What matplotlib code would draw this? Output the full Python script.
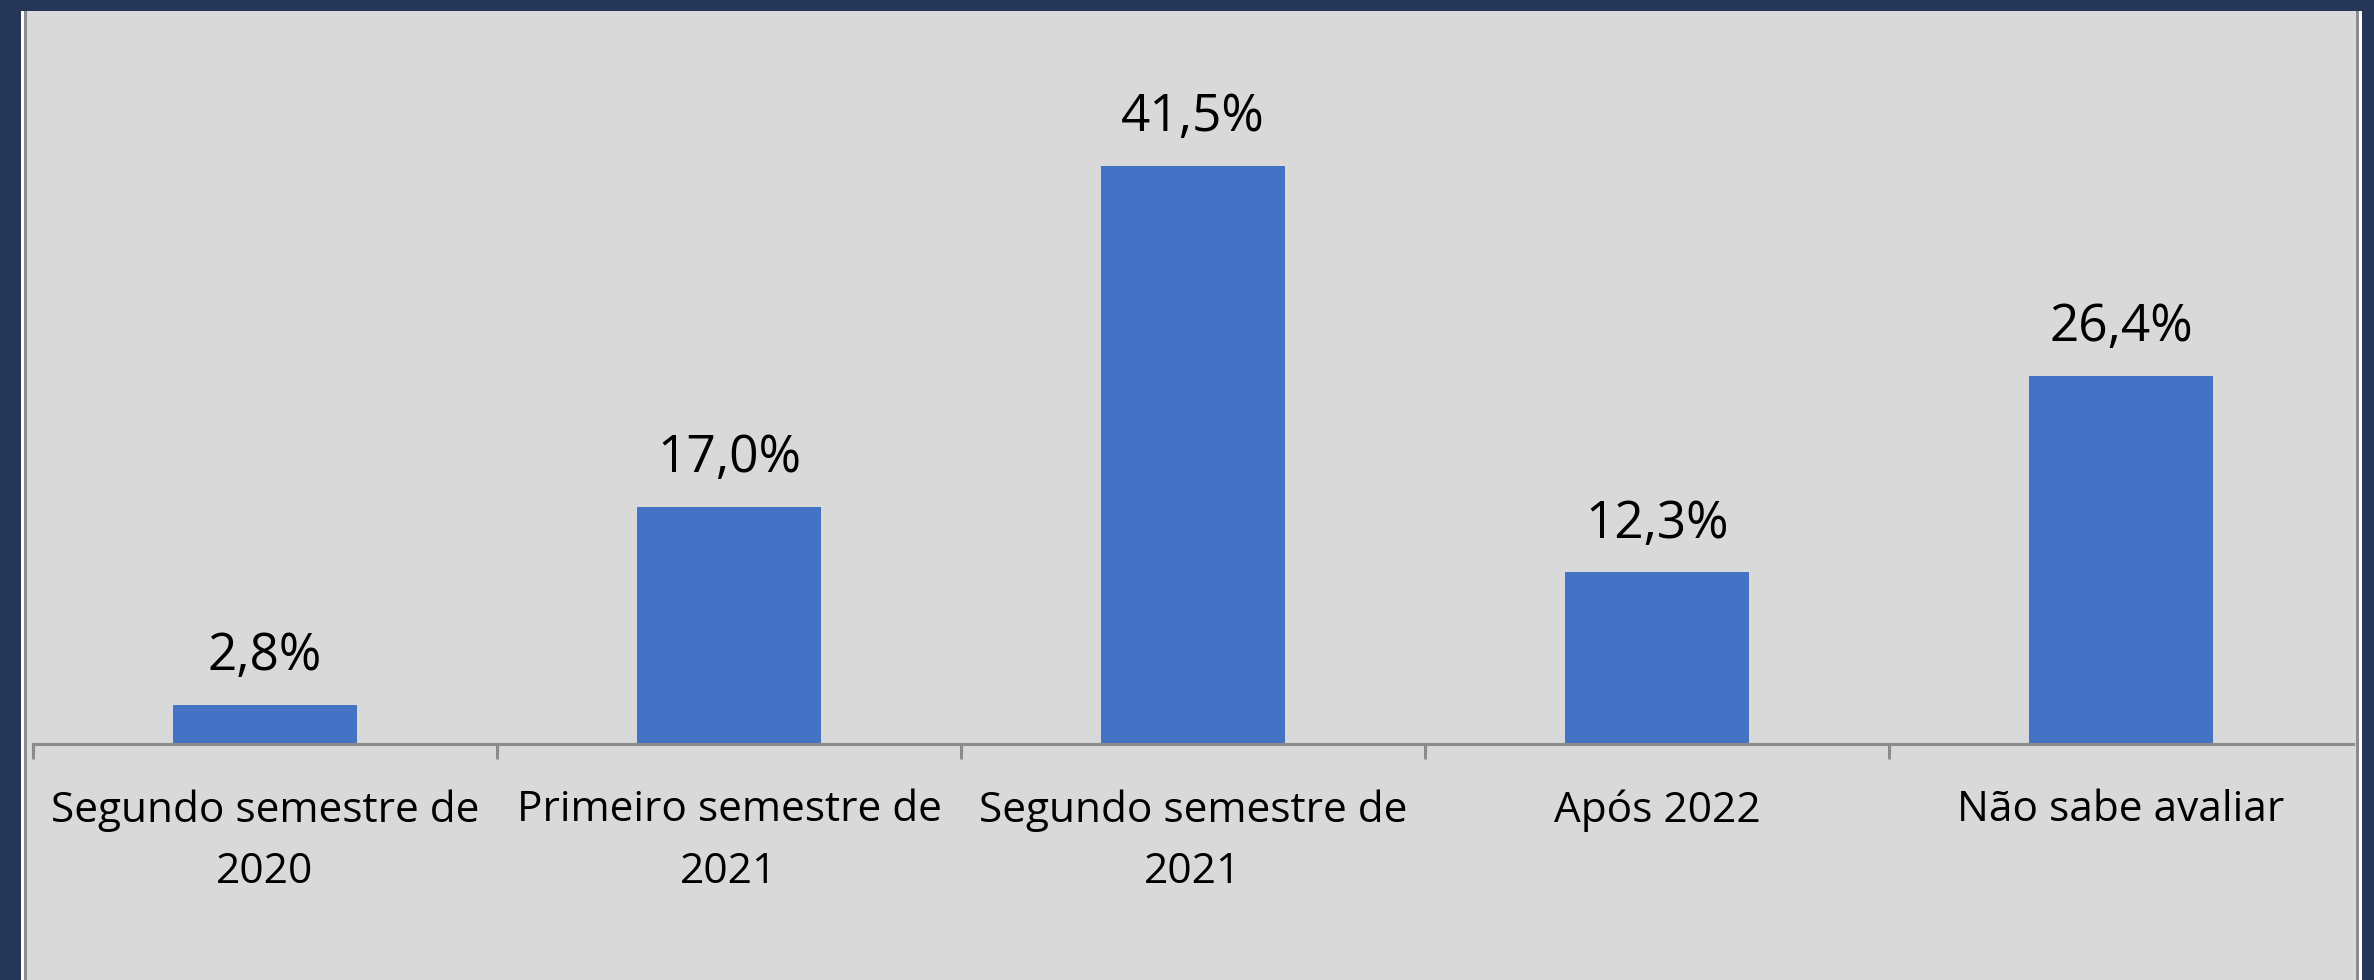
import matplotlib.pyplot as plt
from matplotlib.patches import Rectangle

categories = ['Segundo semestre de\n2020', 'Primeiro semestre de\n2021',
              'Segundo semestre de\n2021', 'Após 2022', 'Não sabe avaliar']
values = [2.8, 17.0, 41.5, 12.3, 26.4]
labels = ['2,8%', '17,0%', '41,5%', '12,3%', '26,4%']

W, H = 2374, 980
navy = '#263657'
panel = '#D9D9D9'
grey = '#8C8C8C'

plt.rcParams['font.family'] = ['Open Sans', 'DejaVu Sans']

fig = plt.figure(figsize=(W / 100, H / 100), dpi=100, facecolor=navy)

# frame: white strip, grey line, then the light panel
def frame(x0, x1, color):
    fig.add_artist(Rectangle((x0 / W, 0), (x1 - x0) / W, (H - 11) / H,
                             transform=fig.transFigure, color=color, lw=0, zorder=0))

frame(21, 2362, 'white')
frame(24, 2359, grey)
frame(27, 2356, panel)

ymax = 45
px_per = 13.92
ax = fig.add_axes([33 / W, (H - 743.5) / H, (2353 - 33) / W, ymax * px_per / H])
ax.set_facecolor('none')

x = list(range(len(categories)))
bars = ax.bar(x, values, width=0.395, color='#4472C4', zorder=2)

for xi, v, lab in zip(x, values, labels):
    ax.annotate(lab, (xi, v), xytext=(0, 25), textcoords='offset points',
                ha='center', va='baseline', fontsize=37, color='black')

ax.set_xlim(-0.5, len(categories) - 0.5)
ax.set_ylim(0, ymax)

for s in ['top', 'left', 'right']:
    ax.spines[s].set_visible(False)
ax.spines['bottom'].set_color(grey)
ax.spines['bottom'].set_linewidth(2.2)

ax.set_yticks([])
ax.set_xticks(x)
ax.set_xticklabels(categories, fontsize=30.5, linespacing=1.6)
ax.tick_params(axis='x', which='major', length=0, pad=33)
ax.set_xticks([i - 0.5 for i in range(len(categories))], minor=True)
ax.tick_params(axis='x', which='minor', length=11, width=2.2, color=grey, direction='out')

fig.savefig('out.png', dpi=100, facecolor=navy)
